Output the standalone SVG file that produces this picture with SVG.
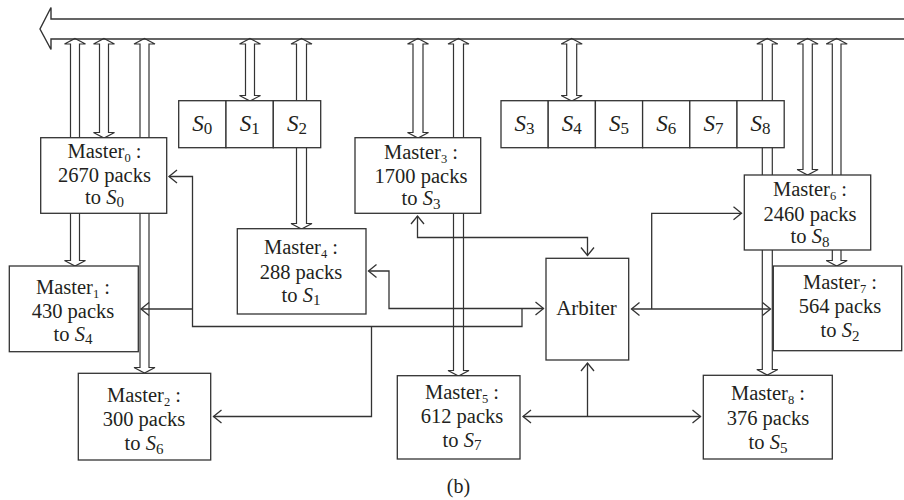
<svg xmlns="http://www.w3.org/2000/svg" width="904" height="500" viewBox="0 0 904 500">
<style>
text{font-family:"Liberation Serif","Times New Roman",serif;font-size:20.5px;fill:#231f20;text-anchor:middle}
.sub{font-size:12.5px}
.ss{font-size:15px}
.sl{font-size:23px}
.sls{font-size:17px}
.it{font-style:italic}
.box{fill:#fff;stroke:#333;stroke-width:1.3}
.shaft{fill:none;stroke:#333;stroke-width:1.2;stroke-linejoin:miter}
.bus{fill:none;stroke:#333;stroke-width:1.4}
.con{fill:none;stroke:#333;stroke-width:1.3}
</style>
<defs>
<marker id="ah" viewBox="-10 -8 12 16" refX="0" refY="0" markerWidth="12" markerHeight="16" markerUnits="userSpaceOnUse" orient="auto-start-reverse">
<path d="M-8,-6.5 L0,0 L-8,6.5" fill="none" stroke="#333" stroke-width="1.3"/>
</marker>
</defs>

<g id="bus">
<path class="bus" d="M904,19 H51 V7.5 L40,29 L51,49.5 V39 H904"/>
</g>

<g id="shafts">
<path class="shaft" d="M75,38.5 L85.5,44 H79.5 V260.5 H85.5 L75,266 L64.5,260.5 H70.5 V44 H64.5 Z"/>
<path class="shaft" d="M104,38.5 L114.5,44 H108.5 V132.5 H114.5 L104,138 L93.5,132.5 H99.5 V44 H93.5 Z"/>
<path class="shaft" d="M144.5,38.5 L155,44 H149 V367.5 H155 L144.5,373 L134,367.5 H140 V44 H134 Z"/>
<path class="shaft" d="M250,38.5 L260.5,44 H254.5 V95.5 H260.5 L250,101 L239.5,95.5 H245.5 V44 H239.5 Z"/>
<path class="shaft" d="M301.5,38.5 L312,44 H306.5 V223.5 H312 L301.5,229 L291,223.5 H296.5 V44 H291 Z"/>
<path class="shaft" d="M418,38.5 L428.5,44 H423 V132.5 H428.5 L418,138 L407.5,132.5 H413 V44 H407.5 Z"/>
<path class="shaft" d="M458.5,38.5 L469,44 H463.5 V370.5 H469 L458.5,376 L448,370.5 H453.5 V44 H448 Z"/>
<path class="shaft" d="M571.7,38.5 L582.2,44 H576.7 V95.5 H582.2 L571.7,101 L561.2,95.5 H566.7 V44 H561.2 Z"/>
<path class="shaft" d="M767.3,38.5 L777.8,44 H772.3 V369.5 H777.8 L767.3,375 L756.8,369.5 H762.3 V44 H756.8 Z"/>
<path class="shaft" d="M807.6,38.5 L818.1,44 H812.3 V169.5 H818.1 L807.6,175 L797.1,169.5 H803 V44 H797.1 Z"/>
<path class="shaft" d="M836.7,38.5 L847.2,44 H841 V260.5 H847.2 L836.7,266 L826.2,260.5 H832.3 V44 H826.2 Z"/>
</g>

<g id="slaves">
<g id="S0"><rect class="box" x="178.7" y="100.7" width="47.3" height="47"/><text x="202.3" y="131" class="sl"><tspan class="it">S</tspan><tspan class="sls" dy="2.5">0</tspan></text></g>
<g id="S1"><rect class="box" x="226" y="100.7" width="47.3" height="47"/><text x="249.7" y="131" class="sl"><tspan class="it">S</tspan><tspan class="sls" dy="2.5">1</tspan></text></g>
<g id="S2"><rect class="box" x="273.3" y="100.7" width="47.4" height="47"/><text x="297" y="131" class="sl"><tspan class="it">S</tspan><tspan class="sls" dy="2.5">2</tspan></text></g>
<g id="S3"><rect class="box" x="501" y="100.7" width="47.2" height="47"/><text x="524.6" y="131" class="sl"><tspan class="it">S</tspan><tspan class="sls" dy="2.5">3</tspan></text></g>
<g id="S4"><rect class="box" x="548.2" y="100.7" width="47.2" height="47"/><text x="571.8" y="131" class="sl"><tspan class="it">S</tspan><tspan class="sls" dy="2.5">4</tspan></text></g>
<g id="S5"><rect class="box" x="595.4" y="100.7" width="47.2" height="47"/><text x="619" y="131" class="sl"><tspan class="it">S</tspan><tspan class="sls" dy="2.5">5</tspan></text></g>
<g id="S6"><rect class="box" x="642.6" y="100.7" width="47.2" height="47"/><text x="666.2" y="131" class="sl"><tspan class="it">S</tspan><tspan class="sls" dy="2.5">6</tspan></text></g>
<g id="S7"><rect class="box" x="689.8" y="100.7" width="47.2" height="47"/><text x="713.4" y="131" class="sl"><tspan class="it">S</tspan><tspan class="sls" dy="2.5">7</tspan></text></g>
<g id="S8"><rect class="box" x="737" y="100.7" width="47.2" height="47"/><text x="760.6" y="131" class="sl"><tspan class="it">S</tspan><tspan class="sls" dy="2.5">8</tspan></text></g>
</g>

<g id="master0"><rect class="box" x="40.7" y="137.7" width="126" height="75.6"/>
<text x="104.5" y="157.5">Master<tspan class="sub" dy="4">0</tspan><tspan dy="-4"> :</tspan></text>
<text x="104.5" y="181.5">2670 packs</text>
<text x="104.5" y="203.5">to <tspan class="it">S</tspan><tspan class="ss" dy="3.5">0</tspan></text></g>

<g id="master1"><rect class="box" x="9.3" y="266" width="129" height="85.7"/>
<text x="73" y="293.5">Master<tspan class="sub" dy="4">1</tspan><tspan dy="-4"> :</tspan></text>
<text x="73" y="317.5">430 packs</text>
<text x="73" y="340.5">to <tspan class="it">S</tspan><tspan class="ss" dy="3.5">4</tspan></text></g>

<g id="master2"><rect class="box" x="78.3" y="373.3" width="132.4" height="86.7"/>
<text x="144" y="401.5">Master<tspan class="sub" dy="4">2</tspan><tspan dy="-4"> :</tspan></text>
<text x="144" y="426">300 packs</text>
<text x="144" y="450">to <tspan class="it">S</tspan><tspan class="ss" dy="3.5">6</tspan></text></g>

<g id="master3"><rect class="box" x="355" y="137.7" width="125.7" height="75.6"/>
<text x="421" y="158.5">Master<tspan class="sub" dy="4">3</tspan><tspan dy="-4"> :</tspan></text>
<text x="421" y="183">1700 packs</text>
<text x="421" y="205">to <tspan class="it">S</tspan><tspan class="ss" dy="3.5">3</tspan></text></g>

<g id="master4"><rect class="box" x="237.3" y="228.7" width="128.7" height="85.3"/>
<text x="301" y="253.5">Master<tspan class="sub" dy="4">4</tspan><tspan dy="-4"> :</tspan></text>
<text x="301" y="278.5">288 packs</text>
<text x="301" y="301.5">to <tspan class="it">S</tspan><tspan class="ss" dy="3.5">1</tspan></text></g>

<g id="master5"><rect class="box" x="397.3" y="375.7" width="122.7" height="83.3"/>
<text x="462" y="398.5">Master<tspan class="sub" dy="4">5</tspan><tspan dy="-4"> :</tspan></text>
<text x="462" y="422.5">612 packs</text>
<text x="462" y="446.5">to <tspan class="it">S</tspan><tspan class="ss" dy="3.5">7</tspan></text></g>

<g id="master6"><rect class="box" x="744.3" y="175" width="126.4" height="75"/>
<text x="810" y="196">Master<tspan class="sub" dy="4">6</tspan><tspan dy="-4"> :</tspan></text>
<text x="810" y="220.5">2460 packs</text>
<text x="810" y="243">to <tspan class="it">S</tspan><tspan class="ss" dy="3.5">8</tspan></text></g>

<g id="master7"><rect class="box" x="773.3" y="266" width="128.4" height="84.7"/>
<text x="840" y="288.5">Master<tspan class="sub" dy="4">7</tspan><tspan dy="-4"> :</tspan></text>
<text x="840" y="313">564 packs</text>
<text x="840" y="337">to <tspan class="it">S</tspan><tspan class="ss" dy="3.5">2</tspan></text></g>

<g id="master8"><rect class="box" x="703.3" y="375.3" width="129" height="83.7"/>
<text x="768" y="400">Master<tspan class="sub" dy="4">8</tspan><tspan dy="-4"> :</tspan></text>
<text x="768" y="425">376 packs</text>
<text x="768" y="449">to <tspan class="it">S</tspan><tspan class="ss" dy="3.5">5</tspan></text></g>

<g id="arbiter"><rect class="box" x="546" y="258.3" width="82.7" height="101.7"/>
<text x="586.5" y="315" style="font-size:21px">Arbiter</text></g>

<g id="connectors">
<path class="con" d="M169,176.5 H192.5 V326.5 H522 V308.5" marker-start="url(#ah)"/>
<path class="con" d="M141,309 H192.5" marker-start="url(#ah)"/>
<path class="con" d="M213.5,416.5 H371.5 V326.5" marker-start="url(#ah)"/>
<path class="con" d="M368.5,271 H389 V308.5 H543.5" marker-start="url(#ah)" marker-end="url(#ah)"/>
<path class="con" d="M417.5,216 V237.5 H587.5 V255.5" marker-start="url(#ah)" marker-end="url(#ah)"/>
<path class="con" d="M741.5,213.3 H651.7 V309" marker-start="url(#ah)"/>
<path class="con" d="M631.5,309 H770.5" marker-start="url(#ah)" marker-end="url(#ah)"/>
<path class="con" d="M523,416.5 H700.5" marker-start="url(#ah)" marker-end="url(#ah)"/>
<path class="con" d="M587.5,416.5 V363" marker-end="url(#ah)"/>
</g>

<text x="458.5" y="493" style="font-size:20px">(b)</text>
</svg>
